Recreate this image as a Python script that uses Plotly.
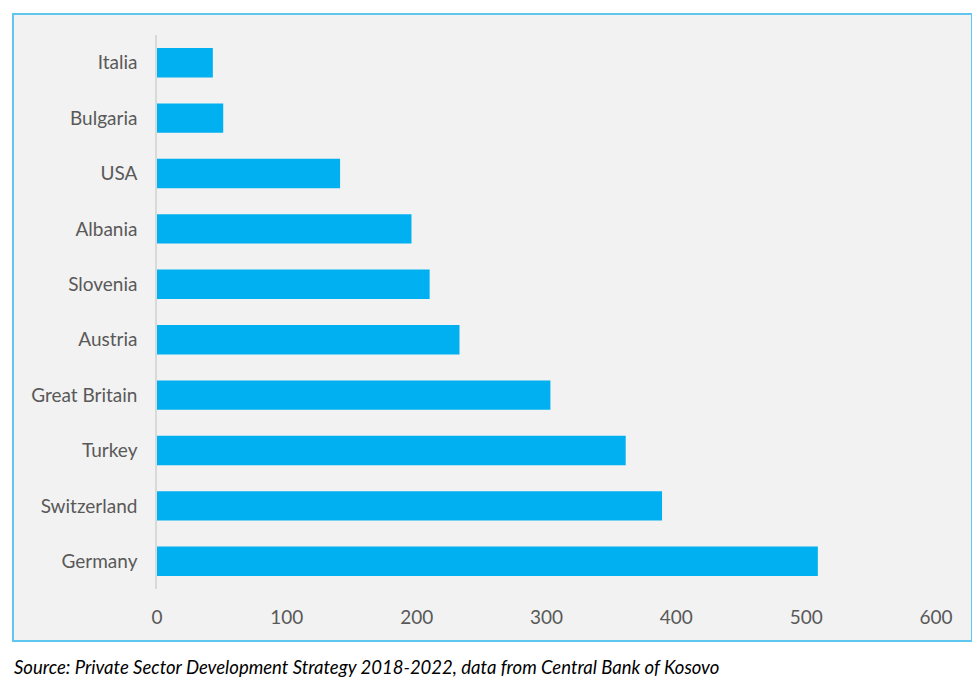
import plotly.graph_objects as go

countries = ["Italia", "Bulgaria", "USA", "Albania", "Slovenia", "Austria",
             "Great Britain", "Turkey", "Switzerland", "Germany"]
values = [43, 51, 141, 196, 210, 233, 303, 361, 389, 509]
x_ticks = [0, 100, 200, 300, 400, 500, 600]
source_text = "Source: Private Sector Development Strategy 2018-2022, data from Central Bank of Kosovo"

W, H = 980, 683
OFF = 8  # page body offset
L, R, T, B = 157 - OFF, 980 - (936 - OFF), 35 - OFF, 683 - (589 - OFF)
pw, ph = W - L - R, H - T - B

def px_x(p):
    return (p - OFF - L) / pw

def px_y(p):
    return (H - B - (p - OFF)) / ph

fig = go.Figure(go.Bar(
    x=values, y=countries, orientation="h",
    marker=dict(color="#00b0f0", line=dict(width=0)),
    width=0.53,
))

fig.add_shape(type="rect", xref="paper", yref="paper",
              x0=px_x(13), x1=px_x(972), y0=px_y(641), y1=px_y(14),
              fillcolor="#f2f2f2", line=dict(color="#5ec6ef", width=2),
              layer="below")

fig.add_annotation(text=source_text, xref="paper", yref="paper",
                   x=px_x(12), y=px_y(667), xanchor="left", yanchor="middle",
                   showarrow=False,
                   font=dict(family="Lato", size=18.5, color="#000000", style="italic"))

fig.update_layout(
    width=W, height=H,
    margin=dict(l=L, r=R, t=T, b=B),
    paper_bgcolor="white",
    plot_bgcolor="rgba(0,0,0,0)",
    showlegend=False,
    font=dict(family="Lato", size=19, color="#595959"),
    xaxis=dict(range=[0, 600], tickvals=x_ticks, showgrid=False, zeroline=False,
               showline=False, ticks="", ticklabelstandoff=15, fixedrange=True),
    yaxis=dict(categoryorder="array", categoryarray=countries,
               range=[9.5, -0.5],
               showgrid=False, zeroline=False, showline=True, linecolor="#d9d9d9",
               linewidth=1.5, ticks="", ticklabelstandoff=14),
)

fig.write_html("out.html")
